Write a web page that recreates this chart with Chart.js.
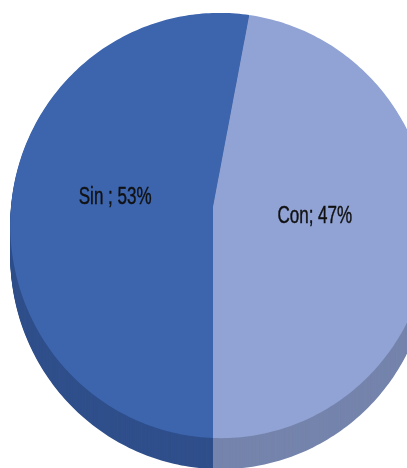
<!DOCTYPE html>
<html>
<head>
<meta charset="utf-8">
<script src="https://cdn.jsdelivr.net/npm/chart.js@4.4.1/dist/chart.umd.min.js"></script>
<style>
  html, body { margin: 0; padding: 0; background: #fff; }
  #wrap { width: 407px; height: 468px; }
</style>
</head>
<body>
<div id="wrap"><canvas id="pie"></canvas></div>
<script>
const labels = ['Sin', 'Con'];
const shares = [53, 47];
const separators = [' ; ', '; '];
const topColors = ['#3c65ae', '#91a3d4'];
const sideColors = ['#2f4f8b', '#7584ac'];

// perspective view of the disc: where the centre lands, half-axes, and how
// strongly the near (bottom / right) side is enlarged
const view = { cx: 213, cy: 207, a: 208.8, e: 210.9, kv: -0.087, ku: -0.0335, depth: 31 };
const STEPS = 360;

function project(arc, px, py) {
  const u = (px - arc.x) / arc.outerRadius;
  const v = (py - arc.y) / arc.outerRadius;
  const w = 1 + view.kv * v + view.ku * u;
  return [view.cx + view.a * u / w, view.cy + view.e * v / w];
}

function slicePath(ctx, arc, dy) {
  const { x, y, outerRadius: r, startAngle: s, endAngle: end } = arc;
  const n = Math.max(2, Math.ceil((end - s) / (2 * Math.PI) * STEPS));
  ctx.beginPath();
  let p = project(arc, x, y);
  ctx.moveTo(p[0], p[1] + dy);
  for (let k = 0; k <= n; k++) {
    const t = s + (end - s) * k / n;
    p = project(arc, x + r * Math.cos(t), y + r * Math.sin(t));
    ctx.lineTo(p[0], p[1] + dy);
  }
  ctx.closePath();
}

const tiltedPie = {
  id: 'tiltedPie',
  beforeDatasetsDraw(chart) {
    const ctx = chart.ctx;
    const arcs = chart.getDatasetMeta(0).data;

    // side wall, stacked from the bottom up
    for (let d = view.depth; d >= 1; d--) {
      arcs.forEach((arc, i) => {
        slicePath(ctx, arc, d);
        ctx.fillStyle = sideColors[i];
        ctx.fill();
      });
    }

    // top face
    arcs.forEach(arc => {
      slicePath(ctx, arc, 0);
      ctx.fillStyle = arc.options.backgroundColor;
      ctx.fill();
    });

    // slice labels
    ctx.save();
    ctx.fillStyle = '#111';
    ctx.strokeStyle = '#111';
    ctx.lineWidth = 0.4;
    ctx.font = '23px "Liberation Sans", sans-serif';
    ctx.textAlign = 'center';
    ctx.textBaseline = 'middle';
    arcs.forEach((arc, i) => {
      const mid = (arc.startAngle + arc.endAngle) / 2;
      const f = 0.48 * arc.outerRadius;
      const [lx, ly] = project(arc, arc.x + f * Math.cos(mid), arc.y + f * Math.sin(mid));
      const text = labels[i] + separators[i] + shares[i] + '%';
      ctx.save();
      ctx.translate(lx, ly);
      ctx.scale(0.74, 1);
      ctx.fillText(text, 0, 0);
      ctx.strokeText(text, 0, 0);
      ctx.restore();
    });
    ctx.restore();
    return false;
  }
};

new Chart(document.getElementById('pie'), {
  type: 'pie',
  data: {
    labels,
    datasets: [{
      data: shares,
      backgroundColor: topColors,
      borderWidth: 0,
    }],
  },
  options: {
    responsive: true,
    maintainAspectRatio: false,
    animation: false,
    events: [],
    rotation: 180,
    layout: { padding: 0 },
    plugins: {
      legend: { display: false },
      tooltip: { enabled: false },
    },
  },
  plugins: [tiltedPie],
});
</script>
</body>
</html>
